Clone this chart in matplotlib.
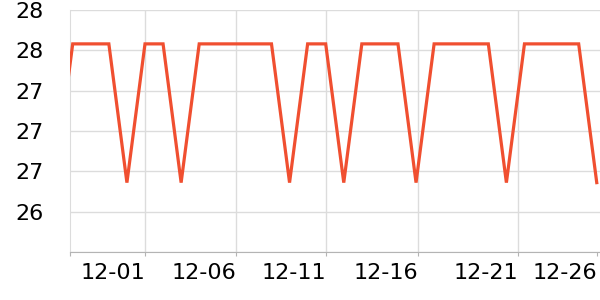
import numpy as np
import matplotlib
matplotlib.use('Agg')
import matplotlib.pyplot as plt
from matplotlib.ticker import FormatStrFormatter

# daily index, 0 = 11-27 (first point -1 is clipped by the axis)
day = np.arange(-1, 30)
hi = 27.54
lo = 26.68
low_days = [-1, 3, 6, 12, 15, 19, 24, 29]
temp = np.array([lo if d in low_days else hi for d in day])

tick_pos = [-0.15, 4, 9.04, 14.02, 19.1, 24.64, 29]
tick_lab = ['', '12-01', '12-06', '12-11', '12-16', '12-21', '12-26']
y_ticks = [26.25, 26.5, 26.75, 27.0, 27.25, 27.5, 27.75]

fig = plt.figure(figsize=(6, 3), dpi=100)
ax = fig.add_axes([70/600, 48/300, 530/600, 242/300])
ax.plot(day, temp, color='#f04f30', lw=2.3, solid_joinstyle='miter', zorder=3)

ax.set_xlim(-0.15, 29.18)
ax.set_ylim(26.25, 27.75)
ax.set_yticks(y_ticks)
ax.yaxis.set_major_formatter(FormatStrFormatter('%.0f'))
ax.set_xticks(tick_pos)
ax.set_xticklabels(tick_lab, ha='right')

ax.grid(True, color='#dcdcdc', lw=1)
ax.set_axisbelow(True)
ax.get_xgridlines()[-1].set_visible(False)
ax.get_xgridlines()[0].set_visible(False)
for s in ['top', 'right']:
    ax.spines[s].set_visible(False)
ax.spines['left'].set_color('#dcdcdc')
ax.spines['bottom'].set_color('#b4b4b4')
ax.tick_params(axis='y', length=0, pad=19, labelsize=16)
ax.tick_params(axis='x', length=3, pad=5, labelsize=16, color='#b4b4b4')
# hide the bottom (unlabeled) y value
ax.get_yticklabels()[0].set_visible(False)

fig.savefig('out.png', dpi=100)
